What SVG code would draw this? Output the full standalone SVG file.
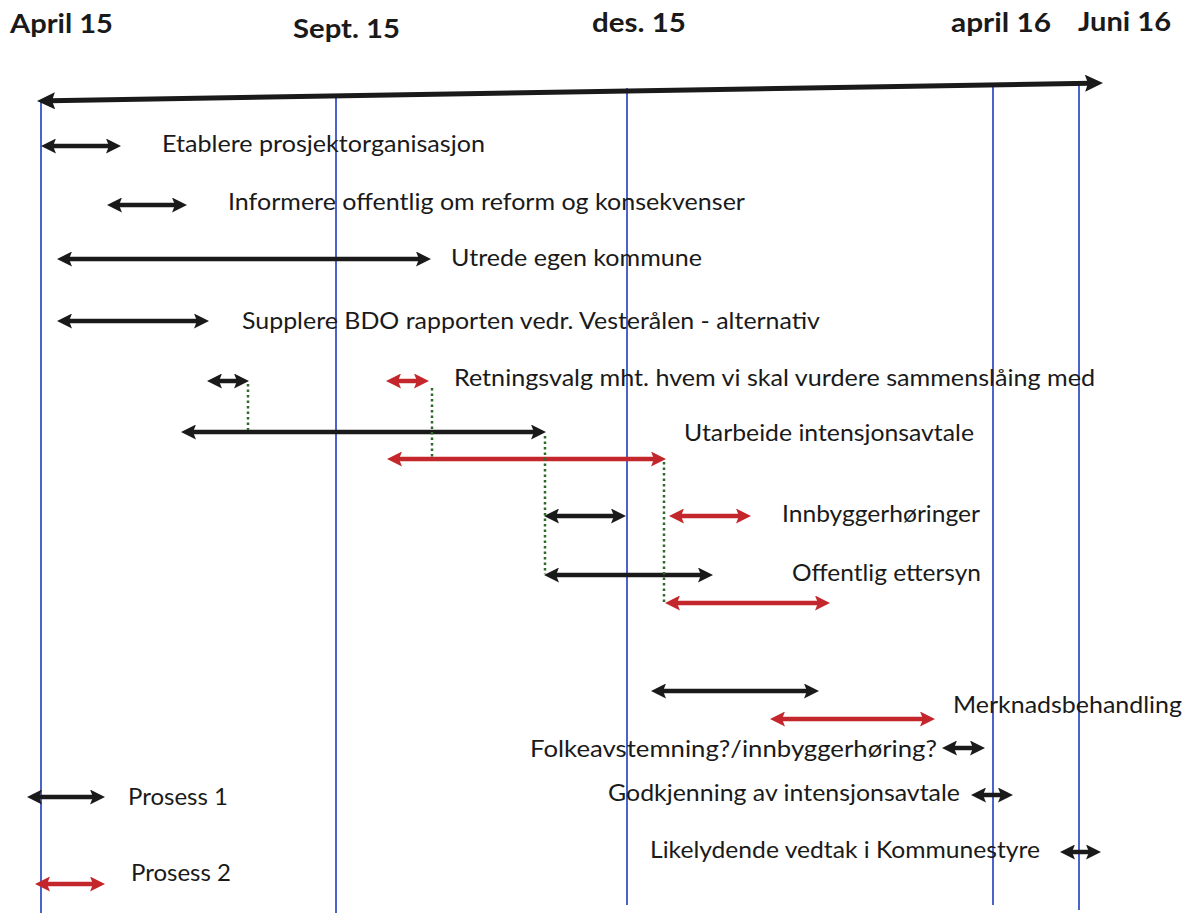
<svg xmlns="http://www.w3.org/2000/svg" width="1189" height="913" viewBox="0 0 1189 913">
<style>
.hdr{font-family:Lato,"Liberation Sans",sans-serif;font-weight:bold;font-size:27px;fill:#1a1a1a}
.lbl{font-family:Lato,"Liberation Sans",sans-serif;font-size:23px;fill:#1a1a1a}
.vl{stroke:#1f3cbf;stroke-width:1.6;fill:none}
.k{stroke:#1a1a1a;stroke-width:4.5;fill:none;marker-start:url(#hk);marker-end:url(#hk)}
.r{stroke:#c3262b;stroke-width:4.5;fill:none;marker-start:url(#hr);marker-end:url(#hr)}
.dot{stroke:#2f6a2a;stroke-width:2.5;stroke-dasharray:2.5 3;fill:none}
</style>
<defs>
<marker id="hk" markerUnits="userSpaceOnUse" markerWidth="17" markerHeight="15" refX="4" refY="7.5" orient="auto-start-reverse"><path d="M0,0 L15,7.5 L0,15 L3,7.5 z" fill="#1a1a1a"/></marker>
<marker id="hr" markerUnits="userSpaceOnUse" markerWidth="17" markerHeight="15" refX="4" refY="7.5" orient="auto-start-reverse"><path d="M0,0 L15,7.5 L0,15 L3,7.5 z" fill="#c3262b"/></marker>
<marker id="ha" markerUnits="userSpaceOnUse" markerWidth="20" markerHeight="17" refX="5" refY="8.5" orient="auto-start-reverse"><path d="M0,0 L18,8.5 L0,17 L3,8.5 z" fill="#1a1a1a"/></marker>
</defs>
<rect width="1189" height="913" fill="#ffffff"/>
<g id="headers">
<text class="hdr" x="10" y="33" textLength="103" lengthAdjust="spacingAndGlyphs">April 15</text>
<text class="hdr" x="293" y="38" textLength="107" lengthAdjust="spacingAndGlyphs">Sept. 15</text>
<text class="hdr" x="592" y="32" textLength="94" lengthAdjust="spacingAndGlyphs">des. 15</text>
<text class="hdr" x="951" y="32" textLength="100" lengthAdjust="spacingAndGlyphs">april 16</text>
<text class="hdr" x="1078" y="31" textLength="93" lengthAdjust="spacingAndGlyphs">Juni 16</text>
</g>
<g id="gridlines">
<line class="vl" x1="41" y1="100" x2="41" y2="913"/>
<line class="vl" x1="336" y1="96" x2="336" y2="913"/>
<line class="vl" x1="627" y1="88" x2="627" y2="905"/>
<line class="vl" x1="993" y1="85" x2="993" y2="905"/>
<line class="vl" x1="1079" y1="84" x2="1079" y2="910"/>
</g>
<g id="connectors">
<line x1="50" y1="100.8" x2="1090" y2="83.2" stroke="#1a1a1a" stroke-width="5" marker-start="url(#ha)" marker-end="url(#ha)"/>
<line class="k" x1="52" y1="146" x2="110" y2="146"/>
<line class="k" x1="118" y1="205" x2="176" y2="205"/>
<line class="k" x1="68" y1="259" x2="420" y2="259"/>
<line class="k" x1="68" y1="321" x2="198" y2="321"/>
<line class="k" x1="218" y1="381" x2="238" y2="381"/>
<line class="r" x1="397" y1="381" x2="418" y2="381"/>
<line class="k" x1="192" y1="432" x2="535" y2="432"/>
<line class="r" x1="398" y1="459" x2="655" y2="459"/>
<line class="k" x1="555" y1="516" x2="615" y2="516"/>
<line class="r" x1="680" y1="516" x2="740" y2="516"/>
<line class="k" x1="555" y1="575" x2="702" y2="575"/>
<line class="r" x1="676" y1="603" x2="819" y2="603"/>
<line class="k" x1="662" y1="691" x2="808" y2="691"/>
<line class="r" x1="781" y1="719" x2="924" y2="719"/>
<line class="k" x1="953" y1="748" x2="974" y2="748"/>
<line class="k" x1="982" y1="795" x2="1002" y2="795"/>
<line class="k" x1="1071" y1="852" x2="1090" y2="852"/>
<line class="k" x1="38" y1="797" x2="94" y2="797"/>
<line class="r" x1="46" y1="884" x2="94" y2="884"/>
<line class="dot" x1="248" y1="384" x2="248" y2="430"/>
<line class="dot" x1="432" y1="388" x2="432" y2="457"/>
<line class="dot" x1="545" y1="436" x2="545" y2="574"/>
<line class="dot" x1="664" y1="462" x2="664" y2="602"/>
</g>
<g id="n1"><text class="lbl" x="162" y="152" textLength="323" lengthAdjust="spacingAndGlyphs">Etablere prosjektorganisasjon</text></g>
<g id="n2"><text class="lbl" x="228" y="210" textLength="517" lengthAdjust="spacingAndGlyphs">Informere offentlig om reform og konsekvenser</text></g>
<g id="n3"><text class="lbl" x="451" y="266" textLength="251" lengthAdjust="spacingAndGlyphs">Utrede egen kommune</text></g>
<g id="n4"><text class="lbl" x="242" y="329" textLength="578" lengthAdjust="spacingAndGlyphs">Supplere BDO rapporten vedr. Vesterålen - alternativ</text></g>
<g id="n5"><text class="lbl" x="454" y="386" textLength="641" lengthAdjust="spacingAndGlyphs">Retningsvalg mht. hvem vi skal vurdere sammenslåing med</text></g>
<g id="n6"><text class="lbl" x="684" y="441" textLength="290" lengthAdjust="spacingAndGlyphs">Utarbeide intensjonsavtale</text></g>
<g id="n7"><text class="lbl" x="782" y="522" textLength="198" lengthAdjust="spacingAndGlyphs">Innbyggerhøringer</text></g>
<g id="n8"><text class="lbl" x="792" y="581" textLength="189" lengthAdjust="spacingAndGlyphs">Offentlig ettersyn</text></g>
<g id="n9"><text class="lbl" x="953" y="713" textLength="229" lengthAdjust="spacingAndGlyphs">Merknadsbehandling</text></g>
<g id="n10"><text class="lbl" x="530" y="757" textLength="407" lengthAdjust="spacingAndGlyphs">Folkeavstemning?/innbyggerhøring?</text></g>
<g id="n11"><text class="lbl" x="608" y="801" textLength="352" lengthAdjust="spacingAndGlyphs">Godkjenning av intensjonsavtale</text></g>
<g id="n12"><text class="lbl" x="650" y="858" textLength="390" lengthAdjust="spacingAndGlyphs">Likelydende vedtak i Kommunestyre</text></g>
<g id="legend1"><text class="lbl" x="128" y="805" textLength="100" lengthAdjust="spacingAndGlyphs">Prosess 1</text></g>
<g id="legend2"><text class="lbl" x="131" y="881" textLength="100" lengthAdjust="spacingAndGlyphs">Prosess 2</text></g>
</svg>
